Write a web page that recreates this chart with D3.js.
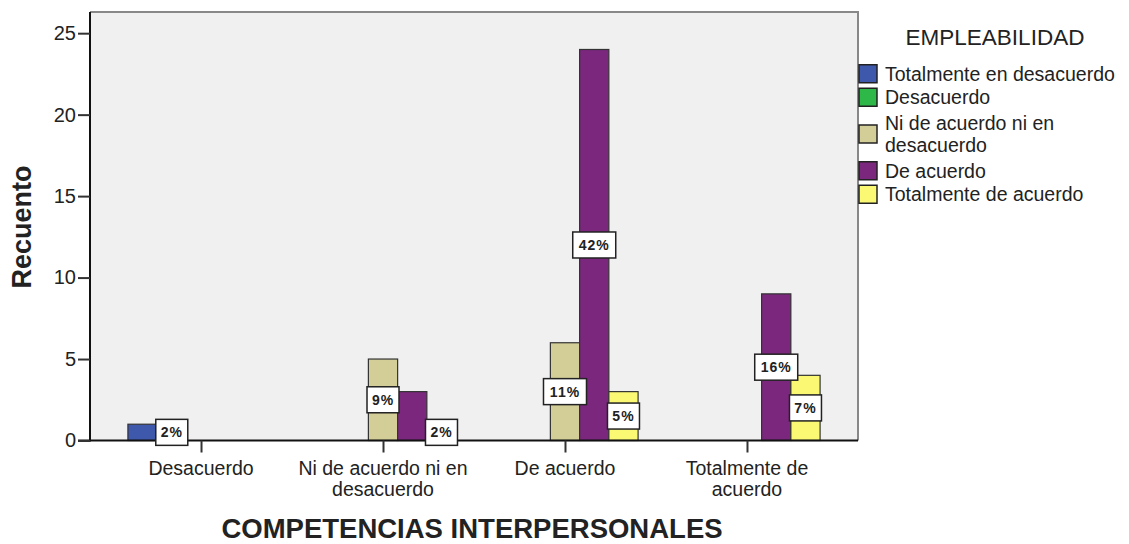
<!DOCTYPE html>
<html>
<head>
<meta charset="utf-8">
<script src="https://cdn.jsdelivr.net/npm/d3@7"></script>
<style>
  body { margin: 0; background: #fff; }
  svg text { font-family: Arial, "Liberation Sans", sans-serif; fill: #222; }
</style>
</head>
<body>
<div id="chart"></div>
<script>
// categories on the x axis (COMPETENCIAS INTERPERSONALES)
const categories = ['Desacuerdo', 'Ni de acuerdo ni en desacuerdo', 'De acuerdo', 'Totalmente de acuerdo'];
const categoryLines = [['Desacuerdo'], ['Ni de acuerdo ni en', 'desacuerdo'], ['De acuerdo'], ['Totalmente de', 'acuerdo']];

// series (EMPLEABILIDAD)
const series = ['Totalmente en desacuerdo', 'Desacuerdo', 'Ni de acuerdo ni en desacuerdo', 'De acuerdo', 'Totalmente de acuerdo'];
const seriesLines = [['Totalmente en desacuerdo'], ['Desacuerdo'], ['Ni de acuerdo ni en', 'desacuerdo'], ['De acuerdo'], ['Totalmente de acuerdo']];
const seriesColors = ['#3e58ac', '#2eb848', '#d3ce97', '#7b277d', '#fbf873'];

// counts per series, one value per category
const totDesacuerdo = [1, 0, 0, 0];
const desacuerdo = [1, 0, 0, 0];
const niNi = [0, 5, 6, 0];
const deAcuerdo = [0, 3, 24, 9];
const totAcuerdo = [0, 1, 3, 4];
const counts = [totDesacuerdo, desacuerdo, niNi, deAcuerdo, totAcuerdo];

// percentage labels shown on the bars (null = no label)
const pctLabels = [
  [null, null, null, null],
  ['2%', null, null, null],
  [null, '9%', '11%', null],
  [null, null, '42%', '16%'],
  [null, '2%', '5%', '7%']
];

const yTicks = [0, 5, 10, 15, 20, 25];

const W = 1129, H = 544;
const margin = {top: 12, right: 271, bottom: 103.5, left: 90};
const width = W - margin.left - margin.right;
const height = H - margin.top - margin.bottom;

const svg = d3.select('#chart').append('svg')
    .attr('width', W)
    .attr('height', H);

const g = svg.append('g')
    .attr('transform', `translate(${margin.left},${margin.top})`);

// scales
const x = d3.scalePoint().domain(categories).range([0, width]).padding(0.61);
const xs = d3.scaleBand().domain(series).range([-73.1, 73.1]);
const y = d3.scaleLinear().domain([0, 26.3]).range([height, 0]);

// plot background + frame
g.append('rect')
    .attr('width', width)
    .attr('height', height)
    .attr('fill', '#f0f0f0');
g.append('path')
    .attr('d', `M0,0H${width}V${height}`)
    .attr('fill', 'none')
    .attr('stroke', '#888')
    .attr('stroke-width', 2);

// bars
const rows = [];
counts.forEach((vals, si) => vals.forEach((v, ci) => {
  rows.push({s: series[si], si: si, c: categories[ci], ci: ci, v: v, label: pctLabels[si][ci]});
}));

g.append('g').selectAll('rect')
  .data(rows.filter(d => d.v > 0))
  .join('rect')
    .attr('x', d => x(d.c) + xs(d.s))
    .attr('y', d => y(d.v))
    .attr('width', xs.bandwidth())
    .attr('height', d => y(0) - y(d.v))
    .attr('fill', d => seriesColors[d.si])
    .attr('stroke', '#333')
    .attr('stroke-width', 1.2);

// axes
const yAxis = g.append('g')
    .call(d3.axisLeft(y).tickValues(yTicks).tickSize(12).tickPadding(2));
const xAxis = g.append('g')
    .attr('transform', `translate(0,${height})`)
    .call(d3.axisBottom(x).tickSize(12).tickFormat(''));

[yAxis, xAxis].forEach(a => {
  a.select('.domain').attr('stroke', '#111').attr('stroke-width', 2);
  a.selectAll('.tick line').attr('stroke', '#333').attr('stroke-width', 2);
});
yAxis.select('.domain').attr('d', `M-12,${height}H0V0`);
xAxis.select('.domain').attr('d', `M0,0H${width}`);
yAxis.selectAll('.tick text')
    .attr('font-size', 20)
    .attr('fill', '#222');

// x tick labels (wrapped)
const xl = g.append('g').attr('transform', `translate(0,${height})`);
categoryLines.forEach((lines, i) => {
  const t = xl.append('text')
      .attr('x', x(categories[i]))
      .attr('y', 34)
      .attr('text-anchor', 'middle')
      .attr('font-size', 19.5);
  lines.forEach((ln, j) => t.append('tspan').attr('x', x(categories[i])).attr('dy', j ? 21 : 0).text(ln));
});

// percentage labels
const lab = g.append('g').selectAll('g')
  .data(rows.filter(d => d.label))
  .join('g')
    .attr('transform', d => `translate(${x(d.c) + xs(d.s) + xs.bandwidth() / 2},${(y(0) + y(d.v)) / 2})`);
lab.append('rect')
    .attr('x', d => d.label.length > 2 ? -21.5 : -16)
    .attr('y', -13)
    .attr('width', d => d.label.length > 2 ? 43 : 32)
    .attr('height', 26)
    .attr('fill', '#fff')
    .attr('stroke', '#222')
    .attr('stroke-width', 1.5);
lab.append('text')
    .attr('text-anchor', 'middle')
    .attr('dy', '0.36em')
    .attr('font-size', 14)
    .attr('font-weight', 'bold')
    .attr('letter-spacing', 1)
    .text(d => d.label);

// axis titles
svg.append('text')
    .attr('transform', `translate(31,227) rotate(-90)`)
    .attr('text-anchor', 'middle')
    .attr('font-size', 27)
    .attr('font-weight', 'bold')
    .attr('fill', '#111')
    .text('Recuento');

svg.append('text')
    .attr('x', 472)
    .attr('y', 538)
    .attr('text-anchor', 'middle')
    .attr('font-size', 27.5)
    .attr('font-weight', 'bold')
    .attr('fill', '#111')
    .text('COMPETENCIAS INTERPERSONALES');

// legend
const legend = svg.append('g').attr('transform', 'translate(859,0)');
legend.append('text')
    .attr('x', 136)
    .attr('y', 45)
    .attr('text-anchor', 'middle')
    .attr('font-size', 22.5)
    .text('EMPLEABILIDAD');

let ly = 62;
seriesLines.forEach((lines, i) => {
  const h = lines.length > 1 ? 50 : 23.5;
  const cy = ly + h / 2;
  legend.append('rect')
      .attr('x', 0)
      .attr('y', cy - 9)
      .attr('width', 18)
      .attr('height', 18)
      .attr('fill', seriesColors[i])
      .attr('stroke', '#222')
      .attr('stroke-width', 1.5);
  const t = legend.append('text')
      .attr('x', 26)
      .attr('y', cy - (lines.length - 1) * 11)
      .attr('font-size', 19.5);
  lines.forEach((ln, j) => t.append('tspan').attr('x', 26).attr('dy', j ? 22 : '0.35em').text(ln));
  ly += h;
});
</script>
</body>
</html>
